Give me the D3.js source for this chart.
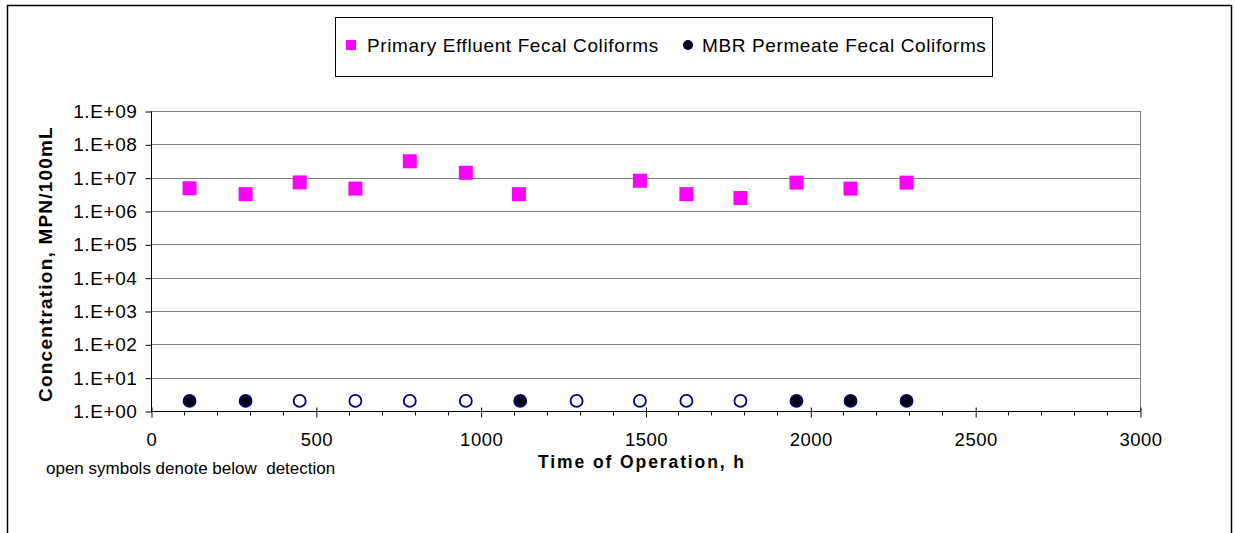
<!DOCTYPE html>
<html>
<head>
<meta charset="utf-8">
<script src="https://cdn.jsdelivr.net/npm/d3@7"></script>
<style>
  body { margin: 0; background: #fff; }
  svg { display: block; font-family: "Liberation Sans", Arial, sans-serif; }
</style>
</head>
<body>
<div id="chart"></div>
<script>
// Fecal coliforms, primary effluent vs MBR permeate
const primaryTime = [117, 287, 451, 620, 785, 955, 1116, 1483, 1624, 1788, 1958, 2122, 2292];
const primaryFC = [4.8e6, 3.2e6, 7.2e6, 4.7e6, 3.1e7, 1.4e7, 3.2e6, 8.1e6, 3.2e6, 2.45e6, 7.1e6, 4.7e6, 7.1e6];

const permeateTime = [117, 287, 451, 620, 785, 955, 1120, 1291, 1483, 1624, 1788, 1958, 2122, 2292];
const permeateFC = [2, 2, 2, 2, 2, 2, 2, 2, 2, 2, 2, 2, 2, 2];
// open symbols = below detection
const belowDetection = [false, false, true, true, true, true, false, true, true, true, true, false, false, false];

const yTicks = [1e0, 1e1, 1e2, 1e3, 1e4, 1e5, 1e6, 1e7, 1e8, 1e9];
const xTicks = [0, 500, 1000, 1500, 2000, 2500, 3000];
const seriesNames = ["Primary Effluent Fecal Coliforms", "MBR Permeate Fecal Coliforms"];

const width = 1235, height = 533;
const plot = { left: 151, right: 1140, top: 111, bottom: 411 };
const font = "'Liberation Sans', Arial, sans-serif";

const svg = d3.select("#chart").append("svg").attr("width", width).attr("height", height);

// outer chart border (bottom runs off the picture)
svg.append("rect").attr("x", 7.5).attr("y", 5.5).attr("width", 1224).attr("height", 540)
    .attr("fill", "none").attr("stroke", "#000").attr("stroke-width", 1.5);

const x = d3.scaleLinear().domain([0, 3000]).range([plot.left, plot.right]);
const y = d3.scaleLog().domain([1, 1e9]).range([plot.bottom, plot.top]);

// gridlines
svg.append("g").selectAll("line").data(yTicks.slice(1)).join("line")
    .attr("x1", plot.left).attr("x2", plot.right)
    .attr("y1", d => Math.round(y(d)) + 0.5).attr("y2", d => Math.round(y(d)) + 0.5)
    .attr("stroke", "#808080").attr("stroke-width", 1);
// right border of plot area
svg.append("line").attr("x1", plot.right + 0.5).attr("x2", plot.right + 0.5)
    .attr("y1", plot.top).attr("y2", plot.bottom).attr("stroke", "#808080");

// y axis
const yAxis = d3.axisLeft(y).tickValues(yTicks).tickSize(6).tickPadding(8)
    .tickFormat(d => "1.E+" + String(Math.round(Math.log10(d))).padStart(2, "0"));
const gy = svg.append("g").attr("transform", `translate(${plot.left + 0.5},0.5)`).call(yAxis);
gy.select(".domain").attr("stroke", "#000").attr("d", `M0,${plot.top}V${plot.bottom}`);
gy.selectAll(".tick line").attr("stroke", "#000");
gy.selectAll(".tick text").attr("font-size", 19).attr("letter-spacing", 0.6).attr("fill", "#000")
    .attr("font-family", font);

// x axis with minor ticks
const gx = svg.append("g").attr("transform", `translate(0.5,${plot.bottom + 0.5})`);
const minorTicks = d3.range(0, 3001, 100).filter(d => d % 500 != 0);
gx.selectAll(".minor").data(minorTicks).join("line").attr("class", "minor")
    .attr("x1", d => Math.round(x(d))).attr("x2", d => Math.round(x(d)))
    .attr("y1", 0).attr("y2", 4).attr("stroke", "#000");
const xAxis = d3.axisBottom(x).tickValues(xTicks).tickSize(6).tickPadding(15).tickFormat(d3.format("d"));
gx.call(xAxis);
gx.select(".domain").attr("stroke", "#000").attr("d", `M${plot.left},0H${plot.right}`);
gx.selectAll(".tick line").attr("stroke", "#000").attr("y1", -4);
gx.selectAll(".tick text").attr("font-size", 18.5).attr("letter-spacing", 0.5).attr("fill", "#000")
    .attr("font-family", font);

// primary effluent squares
const sq = 14;
svg.append("g").selectAll("rect").data(primaryTime).join("rect")
    .attr("x", (d) => x(d) - sq / 2)
    .attr("y", (d, i) => y(primaryFC[i]) - sq / 2)
    .attr("width", sq).attr("height", sq)
    .attr("fill", "#ff00ff");

// permeate circles
svg.append("g").selectAll("circle").data(permeateTime).join("circle")
    .attr("cx", d => x(d))
    .attr("cy", (d, i) => y(permeateFC[i]))
    .attr("r", 6)
    .attr("fill", (d, i) => belowDetection[i] ? "#fff" : "#000")
    .attr("stroke", "#000080").attr("stroke-width", 1.8);

// axis titles
svg.append("text").attr("transform", `translate(52,${(plot.top + plot.bottom) / 2 + 3}) rotate(-90)`)
    .attr("text-anchor", "middle").attr("font-size", 19).attr("font-weight", "bold")
    .attr("letter-spacing", 1.2)
    .text("Concentration, MPN/100mL");
svg.append("text").attr("x", 642).attr("y", 468)
    .attr("text-anchor", "middle").attr("font-size", 17.5).attr("font-weight", "bold")
    .attr("letter-spacing", 1.9)
    .text("Time of Operation, h");
svg.append("text").attr("x", 46).attr("y", 474).attr("font-size", 17)
    .attr("xml:space", "preserve").style("white-space", "pre")
    .text("open symbols denote below  detection");

// legend
const lg = svg.append("g");
lg.append("rect").attr("x", 335.5).attr("y", 17.5).attr("width", 657).attr("height", 59)
    .attr("fill", "#fff").attr("stroke", "#000");
lg.append("rect").attr("x", 346).attr("y", 40).attr("width", 10).attr("height", 10).attr("fill", "#ff00ff");
lg.append("text").attr("x", 367).attr("y", 52).attr("font-size", 19).attr("letter-spacing", 0.62)
    .text(seriesNames[0]);
lg.append("circle").attr("cx", 688).attr("cy", 45).attr("r", 4.5)
    .attr("fill", "#000").attr("stroke", "#000080").attr("stroke-width", 1.2);
lg.append("text").attr("x", 702).attr("y", 52).attr("font-size", 19).attr("letter-spacing", 0.62)
    .text(seriesNames[1]);
</script>
</body>
</html>
